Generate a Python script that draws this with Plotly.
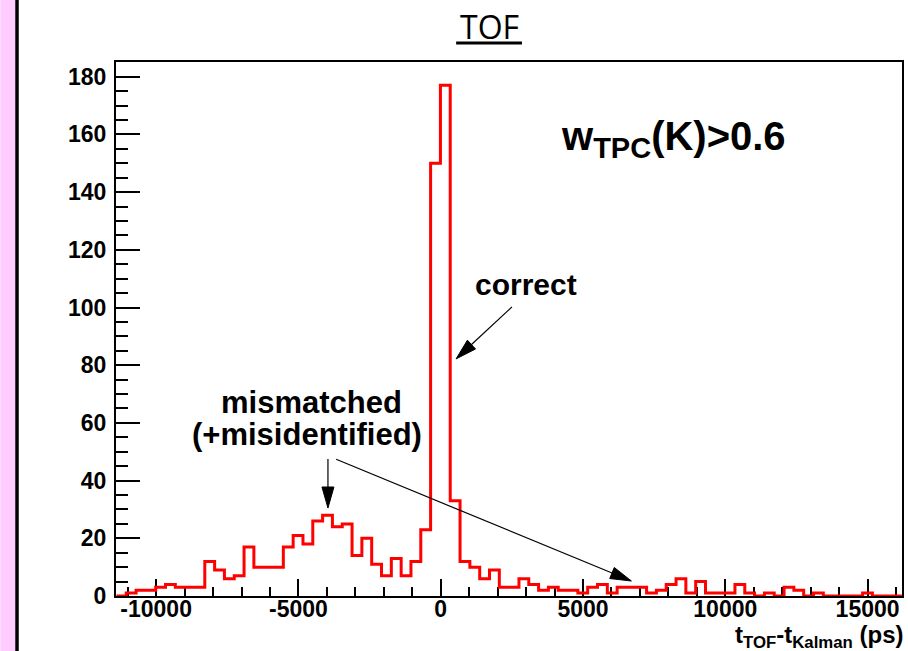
import math
import plotly.graph_objects as go

# ---------------- data ----------------
bin_start = -11395          # ps, left edge of first bin
bin_width = 345             # ps
counts = [0, 1, 2, 2, 3, 4, 3, 3, 3, 12,
          9, 6, 7, 17, 10, 10, 10, 17, 21, 18,
          26, 28, 24, 25, 14, 20, 11, 7, 13, 7,
          12, 23, 150, 177, 33, 12, 10, 6, 9, 3,
          3, 6, 4, 2, 3, 2, 2, 1, 3, 4,
          1, 3, 3, 3, 1, 2, 4, 6, 1, 5,
          1, 1, 1, 4, 1, 0, 1, 0, 3, 2,
          0, 1, 0, 0, 0, 0, 1, 0, 0, 0]
x_tickvals = [-10000, -5000, 0, 5000, 10000, 15000]
x_ticktext = ["-10000", "-5000", "0", "5000", "10000", "15000"]
y_tickvals = [0, 20, 40, 60, 80, 100, 120, 140, 160, 180]
y_ticktext = ["0", "20", "40", "60", "80", "100", "120", "140", "160", "180"]

XR = [-11410, 16210]
YR = [0, 185.1]

# ---------------- layout geometry ----------------
W_PX, H_PX = 908, 651
L, R, T, B = 116, 4, 62, 55
PW = W_PX - L - R
PH = H_PX - T - B


def x2px(x):
    return L + (x - XR[0]) / (XR[1] - XR[0]) * PW


def y2px(y):
    return T + (YR[1] - y) / (YR[1] - YR[0]) * PH


def px2x(p):
    return XR[0] + (p - L) / PW * (XR[1] - XR[0])


def px2y(p):
    return YR[1] - (p - T) / PH * (YR[1] - YR[0])


def arrow_shapes(x0, y0, x1, y1, length=21, half=6):
    ax, ay = x2px(x0), y2px(y0)
    bx, by = x2px(x1), y2px(y1)
    dx, dy = bx - ax, by - ay
    n = math.hypot(dx, dy)
    ux, uy = dx / n, dy / n
    cx, cy = bx - ux * length, by - uy * length
    p1 = (cx - uy * half, cy + ux * half)
    p2 = (cx + uy * half, cy - ux * half)
    path = "M {} {} L {} {} L {} {} Z".format(
        px2x(bx), px2y(by), px2x(p1[0]), px2y(p1[1]), px2x(p2[0]), px2y(p2[1]))
    return [
        dict(type="line", xref="x", yref="y", x0=x0, y0=y0,
             x1=px2x(cx + ux * 4), y1=px2y(cy + uy * 4),
             line=dict(color="black", width=1.2)),
        dict(type="path", xref="x", yref="y", path=path,
             fillcolor="black", line=dict(color="black", width=1)),
    ]


x_edges = [bin_start + i * bin_width for i in range(len(counts) + 1)]
y_steps = counts + [counts[-1]]

fig = go.Figure()
fig.add_trace(go.Scatter(
    x=x_edges, y=y_steps, mode="lines", line_shape="hv",
    line=dict(color="#ff0000", width=3), hoverinfo="skip", showlegend=False))

tick_font = dict(family="Liberation Sans, Arial, sans-serif", size=23,
                 color="black", weight="bold")

fig.update_xaxes(
    range=XR, showline=True, linecolor="black", linewidth=2, mirror=True,
    ticks="inside", ticklen=17, tickwidth=1.5, tickcolor="black",
    tickmode="array", tickvals=x_tickvals, ticktext=x_ticktext,
    tickfont=tick_font, showgrid=False, zeroline=False, layer="below traces",
    minor=dict(tickmode="linear", tick0=0, dtick=1000, ticks="inside",
               ticklen=9, tickwidth=1.5, tickcolor="black", showgrid=False),
    ticklabelstandoff=-9)
fig.update_yaxes(
    range=YR, showline=True, linecolor="black", linewidth=2, mirror=True,
    ticks="inside", ticklen=24, tickwidth=1.5, tickcolor="black",
    tickmode="array", tickvals=y_tickvals, ticktext=y_ticktext,
    tickfont=tick_font, showgrid=False, zeroline=False, layer="below traces",
    minor=dict(tickmode="linear", tick0=0, dtick=5, ticks="inside",
               ticklen=12, tickwidth=1.5, tickcolor="black", showgrid=False),
    ticklabelstandoff=3)

shapes = []
# slide decoration on the left
shapes.append(dict(type="rect", xref="paper", yref="paper",
                   x0=(0 - L) / PW, x1=(15 - L) / PW,
                   y0=(T + PH - H_PX) / PH, y1=(T + PH) / PH,
                   fillcolor="#ffccff", line=dict(width=0), layer="below"))
shapes.append(dict(type="rect", xref="paper", yref="paper",
                   x0=(15 - L) / PW, x1=(18.5 - L) / PW,
                   y0=(T + PH - H_PX) / PH, y1=(T + PH) / PH,
                   fillcolor="black", line=dict(width=0), layer="below"))
# title underline
shapes.append(dict(type="line", xref="paper", yref="paper",
                   x0=(457 - L) / PW, x1=(523 - L) / PW,
                   y0=(T + PH - 43) / PH, y1=(T + PH - 43) / PH,
                   line=dict(color="black", width=3)))
# arrows
shapes += arrow_shapes(2505, 100.2, 542, 82.2)
shapes += arrow_shapes(-3962, 47.5, -3962, 30.5)
shapes += arrow_shapes(-3674, 47.4, 6700, 5.2)

ann_font = dict(family="Liberation Sans, Arial, sans-serif", color="black",
                weight="bold")
annotations = [
    dict(text="TOF", xref="paper", yref="paper",
         x=(490 - L) / PW, y=(T + PH - 27) / PH, showarrow=False,
         xanchor="center", yanchor="middle",
         font=dict(family="Open Sans, sans-serif", size=32, color="black")),
    dict(text="t<sub>TOF</sub>-t<sub>Kalman</sub> (ps)", xref="paper", yref="paper",
         x=1.0, y=(T + PH - 636) / PH, showarrow=False, xshift=4,
         xanchor="right", yanchor="middle", font=dict(size=24, **ann_font)),
    dict(text='w<sub><span style="font-size:29px">TPC</span></sub>(K)>0.6',
         xref="x", yref="y", x=8183, y=158.5,
         showarrow=False, xanchor="center", yanchor="middle",
         font=dict(size=40, **ann_font)),
    dict(text="correct", xref="x", yref="y", x=3010, y=108.1,
         showarrow=False, xanchor="center", yanchor="middle",
         font=dict(size=30, **ann_font)),
    dict(text="mismatched", xref="x", yref="y", x=-4551, y=67.2,
         showarrow=False, xanchor="center", yanchor="middle",
         font=dict(size=31, **ann_font)),
    dict(text="(+misidentified)", xref="x", yref="y", x=-4698, y=56.0,
         showarrow=False, xanchor="center", yanchor="middle",
         font=dict(size=31, **ann_font)),
]

fig.update_layout(
    width=W_PX, height=H_PX,
    margin=dict(l=L, r=R, t=T, b=B),
    paper_bgcolor="white", plot_bgcolor="white",
    shapes=shapes, annotations=annotations, showlegend=False)

fig.write_html("out.html", config={"displayModeBar": False},
               post_script="document.body.style.margin='0';"
                           "document.body.style.padding='0';")
